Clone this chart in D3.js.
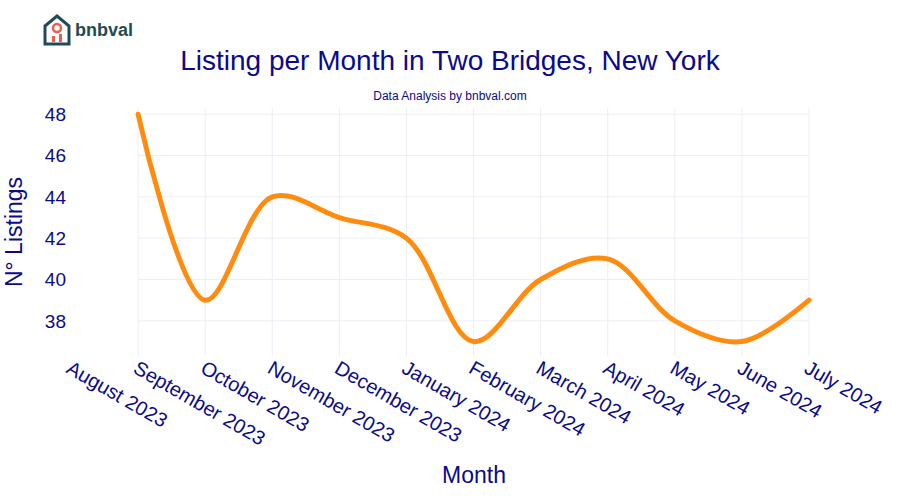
<!DOCTYPE html>
<html>
<head>
<meta charset="utf-8">
<script src="https://cdn.jsdelivr.net/npm/d3@7"></script>
<style>
  body { margin: 0; background: #fff; }
  text { font-family: "Liberation Sans", Arial, sans-serif; }
</style>
</head>
<body>
<svg id="chart" width="900" height="500"></svg>
<script>
// tick labels (August has no data point, as in the original)
var months = ["August 2023", "September 2023", "October 2023", "November 2023", "December 2023",
  "January 2024", "February 2024", "March 2024", "April 2024", "May 2024", "June 2024", "July 2024"];
var dataMonths = months.slice(1);
var listings = [48, 39, 44, 43, 42, 37, 40, 41, 38, 37, 39];
var yTicks = [38, 40, 42, 44, 46, 48];

var navy = "#0a0a8a";
var svg = d3.select("#chart");

var x = d3.scalePoint().domain(months).range([71, 809]);
var y = d3.scaleLinear().domain([36.3, 48.3]).range([356, 108]);

// grid
svg.append("g").selectAll("line").data(yTicks).enter().append("line")
  .attr("x1", 138).attr("x2", 809)
  .attr("y1", function(d) { return y(d); }).attr("y2", function(d) { return y(d); })
  .attr("stroke", "#ebeef5");
svg.append("g").selectAll("line").data(dataMonths).enter().append("line")
  .attr("x1", function(d) { return x(d); }).attr("x2", function(d) { return x(d); })
  .attr("y1", 108).attr("y2", 356)
  .attr("stroke", "#ebeef5");

// y axis labels
svg.append("g").selectAll("text").data(yTicks).enter().append("text")
  .attr("x", 66).attr("y", function(d) { return y(d); })
  .attr("dy", "0.35em").attr("text-anchor", "end")
  .attr("fill", navy).attr("font-size", 19)
  .text(function(d) { return d; });

// x axis labels, rotated 30deg
svg.append("g").selectAll("text").data(months).enter().append("text")
  .attr("transform", function(d) { return "translate(" + (x(d) - 6) + ",372) rotate(30)"; })
  .attr("fill", navy).attr("font-size", 20)
  .text(function(d) { return d; });

// line
var line = d3.line()
  .x(function(d, i) { return x(dataMonths[i]); })
  .y(function(d) { return y(d); })
  .curve(d3.curveCatmullRom.alpha(0.5));
svg.append("path").datum(listings)
  .attr("d", line)
  .attr("fill", "none")
  .attr("stroke", "#ff8c0f")
  .attr("stroke-width", 5)
  .attr("stroke-linecap", "round");

// titles
svg.append("text").attr("x", 450).attr("y", 70).attr("text-anchor", "middle")
  .attr("fill", navy).attr("font-size", 28).text("Listing per Month in Two Bridges, New York");
svg.append("text").attr("x", 450).attr("y", 100).attr("text-anchor", "middle")
  .attr("fill", navy).attr("font-size", 12).text("Data Analysis by bnbval.com");
svg.append("text").attr("x", 474).attr("y", 483).attr("text-anchor", "middle")
  .attr("fill", navy).attr("font-size", 23).text("Month");
svg.append("text").attr("transform", "translate(22,232) rotate(-90)").attr("text-anchor", "middle")
  .attr("fill", navy).attr("font-size", 23).text("N° Listings");

// logo
var logo = svg.append("g").attr("transform", "translate(43,14)");
logo.append("path").attr("d", "M2,12 L14,2 L26,12 L26,30 L2,30 Z")
  .attr("fill", "none").attr("stroke", "#1f4b55").attr("stroke-width", 3);
logo.append("circle").attr("cx", 14).attr("cy", 14).attr("r", 4)
  .attr("fill", "none").attr("stroke", "#e8604c").attr("stroke-width", 2.5);
logo.append("rect").attr("x", 9).attr("y", 22).attr("width", 3).attr("height", 6).attr("fill", "#e8604c");
logo.append("rect").attr("x", 16).attr("y", 20).attr("width", 3).attr("height", 8).attr("fill", "#e8604c");
logo.append("text").attr("x", 32).attr("y", 22).attr("fill", "#1f4b55")
  .attr("font-size", 18).attr("font-weight", "bold").text("bnbval");
</script>
</body>
</html>
